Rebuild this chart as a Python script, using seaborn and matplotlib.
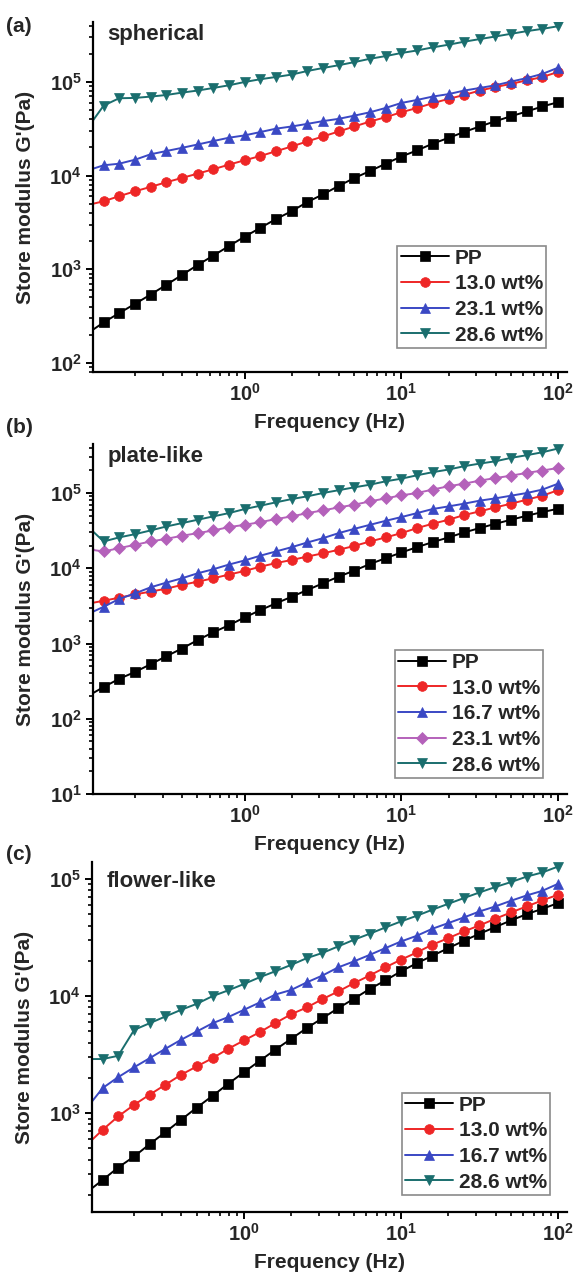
import numpy as np
import pandas as pd
import matplotlib
matplotlib.use("Agg")
import matplotlib.pyplot as plt
from matplotlib.ticker import LogLocator, FuncFormatter, NullFormatter
import seaborn as sns

# частота, Гц (10 точек на декаду)
freq = [0.1, 0.126, 0.158, 0.2, 0.251, 0.316, 0.398, 0.501, 0.631, 0.794,
        1.0, 1.26, 1.58, 2.0, 2.51, 3.16, 3.98, 5.01, 6.31, 7.94,
        10, 12.6, 15.8, 20, 25.1, 31.6, 39.8, 50.1, 63.1, 79.4, 100]

# (a) spherical
a_pp = [208, 271, 340, 428, 537, 681, 870, 1110, 1400, 1770, 2230, 2770, 3430, 4180, 5220, 6310,
        7760, 9430, 11200, 13400, 16000, 18600, 21900, 25300, 29200, 33500, 38100, 43100, 48400,
        54800, 60800]
a_130 = [4860, 5330, 6030, 6810, 7580, 8500, 9450, 10500, 11700, 13100, 14600, 16200, 18200, 20500,
         23200, 26200, 29600, 33500, 37800, 42100, 47500, 52800, 59300, 66000, 72600, 81000, 88200,
         95600, 104000, 113000, 128000]
a_231 = [11400, 12900, 13400, 14800, 16900, 18300, 19800, 21500, 23400, 25400, 26900, 29200, 31700,
         33500, 35700, 38200, 40400, 43700, 47500, 52800, 59700, 64300, 69800, 74200, 80900, 86300,
         92200, 101000, 110000, 122000, 142000]
a_286 = [32700, 56000, 67000, 67600, 69800, 72600, 77000, 81000, 86300, 92200, 100000, 107000,
         113000, 120000, 131000, 141000, 151000, 163000, 177000, 189000, 204000, 217000, 234000,
         250000, 269000, 287000, 306000, 327000, 349000, 369000, 394000]

# (b) plate-like
b_pp = [201, 264, 339, 419, 530, 677, 857, 1110, 1410, 1750, 2220, 2780, 3410, 4190, 5140, 6310,
        7740, 9310, 11400, 13600, 16200, 19100, 22200, 25700, 29900, 34200, 39000, 44100, 49900,
        55800, 61800]
b_130 = [3380, 3700, 4060, 4500, 4890, 5360, 6000, 6640, 7360, 8240, 9210, 10500, 11700, 12900,
         14300, 15800, 17600, 19800, 22700, 25700, 29300, 34200, 39000, 44100, 50900, 57000, 64400,
         72100, 81500, 92100, 109000]
b_167 = [2460, 3080, 3900, 4640, 5580, 6440, 7360, 8570, 9700, 11200, 12700, 14700, 16700, 19100,
         22000, 25100, 29300, 33400, 37800, 42700, 47900, 54100, 61200, 66400, 72100, 79100, 84900,
         92100, 100000, 111000, 133000]
b_231 = [17900, 16700, 18500, 20500, 22700, 24600, 27000, 29300, 31800, 35200, 37800, 41000, 45000,
         48900, 54100, 58700, 64400, 69900, 77400, 84900, 93100, 100000, 111000, 123000, 133000,
         146000, 158000, 170000, 185000, 199000, 215000]
b_286 = [35600, 22700, 25700, 28400, 31800, 35900, 39800, 44100, 48900, 54100, 61200, 67800, 75100,
         83200, 90300, 100000, 109000, 119000, 129000, 143000, 155000, 172000, 189000, 205000,
         227000, 246000, 264000, 293000, 318000, 348000, 390000]

# (c) flower-like
c_pp = [211, 269, 343, 427, 544, 688, 878, 1117, 1406, 1782, 2240, 2800, 3480, 4320, 5330, 6480,
        7890, 9490, 11500, 13600, 16300, 19100, 22100, 25700, 29700, 34100, 38900, 44300, 50200,
        55700, 62400]
c_130 = [538, 721, 938, 1180, 1440, 1750, 2130, 2510, 2950, 3550, 4180, 4920, 5870, 7010, 8000,
         9430, 10960, 12900, 15000, 17600, 20500, 23600, 27500, 31300, 35700, 40200, 45800, 51900,
         58400, 65800, 73500]
c_167 = [1110, 1640, 2030, 2470, 2950, 3550, 4240, 4990, 5870, 6620, 7640, 8830, 10300, 11300,
         13100, 15000, 17600, 19800, 22500, 25700, 29300, 32800, 37600, 42100, 47000, 52900, 58400,
         65300, 72500, 79400, 91200]
c_286 = [2900, 2900, 3090, 5150, 5870, 6700, 7640, 8600, 10000, 11200, 12700, 14500, 16300, 18500,
         21100, 23400, 26600, 30300, 34100, 38600, 43500, 48600, 54700, 61500, 68800, 76900, 85500,
         94300, 105000, 114000, 128000]

# стили серий: (цвет, маркер)
st_pp = ("black", "s")
st_130 = ("#EE2626", "o")
st_167 = ("#3A48C4", "^")
st_231 = ("#B461BA", "D")
st_286 = ("#1A6E6E", "v")

sns.set_style("ticks")
plt.rcParams["font.family"] = ["Liberation Sans", "DejaVu Sans"]
plt.rcParams["font.weight"] = "bold"
plt.rcParams["axes.labelweight"] = "bold"
plt.rcParams["mathtext.fontset"] = "custom"
plt.rcParams["mathtext.rm"] = "Liberation Sans:bold"
plt.rcParams["mathtext.bf"] = "Liberation Sans:bold"
plt.rcParams["mathtext.it"] = "Liberation Sans:bold"

fig = plt.figure(figsize=(5.79, 12.75), dpi=100)
W, H = 579, 1275


def make_ax(left, top, right, bottom):
    return fig.add_axes([left / W, 1 - bottom / H, (right - left) / W, (bottom - top) / H])


def draw_panel(ax, series, ylim, name, name_y, leg_anchor):
    for label, vals, (c, m) in series:
        sns.lineplot(x=freq, y=vals, color=c, marker=m, markersize=7 if m != "D" else 6.5,
                     markeredgecolor=c, markeredgewidth=0.5, linewidth=1.4,
                     label=label, errorbar=None, ax=ax)
    ax.set(xscale="log", yscale="log")
    ax.set_xlim(0.1077, 114)
    ax.set_ylim(*ylim)
    sns.despine(ax=ax)
    for sp in ["left", "bottom"]:
        ax.spines[sp].set_linewidth(1.6)
        ax.spines[sp].set_color("black")
    fmt = FuncFormatter(lambda v, p: r"$\mathbf{10^{%d}}$" % round(np.log10(v)))
    for axis in [ax.xaxis, ax.yaxis]:
        axis.set_major_locator(LogLocator(base=10, numticks=12))
        axis.set_minor_locator(LogLocator(base=10, subs=np.arange(2, 10), numticks=12))
        axis.set_major_formatter(fmt)
        axis.set_minor_formatter(NullFormatter())
    ax.tick_params(which="major", direction="out", length=5, width=1.4, labelsize=14.5, pad=3,
                   color="black")
    ax.tick_params(which="minor", direction="out", length=3, width=1.2, color="black")
    ax.set_xlabel("Frequency (Hz)", fontsize=15, fontweight="bold")
    ax.set_ylabel("Store modulus G'(Pa)", fontsize=15, fontweight="bold")
    ax.xaxis.set_label_coords(0.5, -0.118)
    ax.yaxis.set_label_coords(-0.122, 0.5)
    ax.text(0.03, name_y, name, transform=ax.transAxes, fontsize=16, fontweight="bold",
            ha="left", va="center")
    ax.grid(False)
    h, l = ax.get_legend_handles_labels()
    leg = ax.legend(h, l, loc="lower right", bbox_to_anchor=leg_anchor,
                    frameon=True, fancybox=False, edgecolor="#8a8a8a", framealpha=1,
                    borderpad=0.15, labelspacing=0.32, handlelength=2.3, handletextpad=0.3,
                    borderaxespad=0.0, prop={"weight": "bold", "size": 15})
    leg.get_frame().set_linewidth(1.2)


# --------------------------- (a) ---------------------------
ax_a = make_ax(93, 22, 567, 372)
draw_panel(ax_a,
           [("PP", a_pp, st_pp), ("13.0 wt%", a_130, st_130),
            ("23.1 wt%", a_231, st_167), ("28.6 wt%", a_286, st_286)],
           (80, 4.37e5), "spherical", 0.963, (0.956, 0.069))

# --------------------------- (b) ---------------------------
ax_b = make_ax(93, 444, 567, 794)
draw_panel(ax_b,
           [("PP", b_pp, st_pp), ("13.0 wt%", b_130, st_130), ("16.7 wt%", b_167, st_167),
            ("23.1 wt%", b_231, st_231), ("28.6 wt%", b_286, st_286)],
           (10, 4.48e5), "plate-like", 0.963, (0.95, 0.046))

# --------------------------- (c) ---------------------------
ax_c = make_ax(92, 862, 567, 1212)
draw_panel(ax_c,
           [("PP", c_pp, st_pp), ("13.0 wt%", c_130, st_130),
            ("16.7 wt%", c_167, st_167), ("28.6 wt%", c_286, st_286)],
           (143, 1.40e5), "flower-like", 0.943, (0.965, 0.049))

# подписи панелей
for txt, y in [("(a)", 27), ("(b)", 427), ("(c)", 855)]:
    fig.text(6 / W, 1 - y / H, txt, fontsize=15, fontweight="bold", ha="left", va="center")

fig.savefig("out.png", dpi=100)
